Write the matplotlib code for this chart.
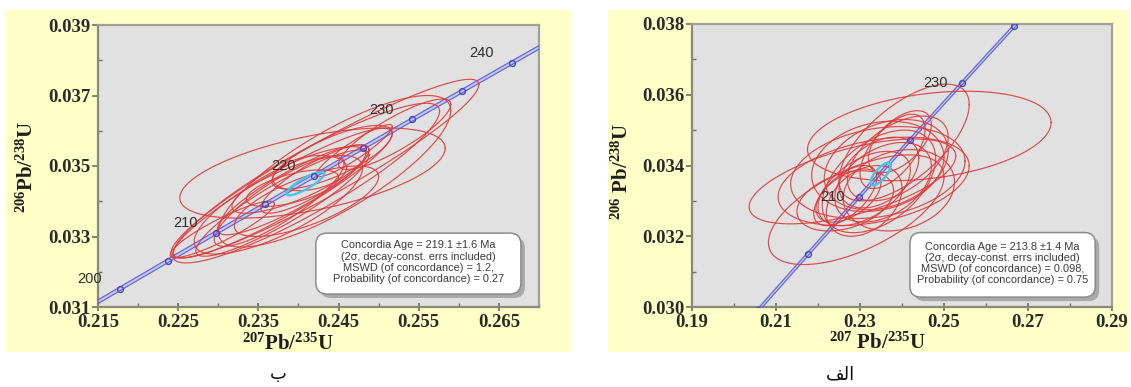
import numpy as np
import matplotlib

matplotlib.use("Agg")

import matplotlib.pyplot as plt
from matplotlib.patches import FancyBboxPatch
from matplotlib.ticker import MultipleLocator, FormatStrFormatter

plt.rcParams["mathtext.fontset"] = "custom"
plt.rcParams["mathtext.rm"] = "Liberation Serif:bold"
plt.rcParams["mathtext.bf"] = "Liberation Serif:bold"
plt.rcParams["mathtext.default"] = "rm"

# decay constants (1/yr) used for the concordia curve
LAMBDA_238 = 1.55125e-10
LAMBDA_235 = 9.8485e-10

# ---- panel "ب" (left) ----
b_caption = "ب"
b_xlim = (0.215, 0.270)
b_ylim = (0.031, 0.039)
b_xticks = [0.215, 0.225, 0.235, 0.245, 0.255, 0.265]
b_yticks = [0.031, 0.033, 0.035, 0.037, 0.039]
b_marker_ages = [195, 200, 205, 210, 215, 220, 225, 230, 235, 240, 245]
b_label_ages = [200, 210, 220, 230, 240]
b_cx = [0.2433, 0.24095, 0.2445, 0.24175, 0.2442, 0.23805, 0.2380, 0.2376, 0.23935,
        0.24005, 0.23925, 0.2414, 0.2305, 0.2375, 0.2410, 0.24695, 0.24205, 0.2520]
b_cy = [0.034925, 0.034515, 0.03485, 0.0348, 0.03525, 0.03423, 0.03395, 0.033995, 0.034325,
        0.034605, 0.03437, 0.0348, 0.0332, 0.0339, 0.0340, 0.035435, 0.03463, 0.0359]
b_sx = [0.0192, 0.01665, 0.0145, 0.01655, 0.0075, 0.01365, 0.0108, 0.0081, 0.00945,
        0.00835, 0.00575, 0.0046, 0.0065, 0.0105, 0.0090, 0.00475, 0.00675, 0.0070]
b_sy = [0.002535, 0.002265, 0.00215, 0.00128, 0.0009, 0.00184, 0.00151, 0.001275, 0.001275,
        0.000945, 0.00052, 0.0005, 0.0008, 0.0014, 0.0010, 0.00074, 0.00097, 0.0010]
b_rho = [0.94, 0.9, 0.8, 0.55, 0.75, 0.92, 0.9, 0.85, 0.88,
         0.8, 0.6, 0.3, 0.9, 0.75, 0.7, 0.92, 0.85, 0.85]
b_mean = (0.24085, 0.0345, 0.00235, 0.00033, 0.85)
b_text = ["Concordia Age = 219.1 \u00b11.6 Ma",
          "(2\u03c3, decay-const. errs included)",
          "MSWD (of concordance) = 1.2,",
          "Probability (of concordance) = 0.27"]

# ---- panel "الف" (right) ----
a_caption = "الف"
a_xlim = (0.19, 0.29)
a_ylim = (0.030, 0.038)
a_xticks = [0.19, 0.21, 0.23, 0.25, 0.27, 0.29]
a_yticks = [0.030, 0.032, 0.034, 0.036, 0.038]
a_marker_ages = [190, 200, 210, 220, 230, 240, 250]
a_label_ages = [210, 230]
a_cx = [0.2465, 0.2282, 0.2291, 0.23325, 0.23425, 0.23425, 0.2345, 0.2405, 0.2355, 0.231,
        0.239, 0.231, 0.23775, 0.22725, 0.2345, 0.2395, 0.23625, 0.2265, 0.23925, 0.2265]
a_cy = [0.034835, 0.03355, 0.03275, 0.03355, 0.0338, 0.033975, 0.03355, 0.03465, 0.033525, 0.03335,
        0.0342, 0.033, 0.0344, 0.03315, 0.0338, 0.034675, 0.034025, 0.033, 0.0333, 0.03315]
a_sx = [0.029, 0.0246, 0.0209, 0.02275, 0.02075, 0.01575, 0.0135, 0.0155, 0.0115, 0.011,
        0.012, 0.009, 0.00775, 0.00775, 0.0095, 0.0075, 0.01475, 0.0115, 0.01325, 0.0075]
a_sy = [0.001265, 0.0012, 0.00155, 0.00125, 0.0013, 0.001275, 0.00145, 0.00165, 0.001125, 0.00105,
        0.0012, 0.001, 0.00105, 0.00075, 0.001, 0.000875, 0.001275, 0.00085, 0.00115, 0.00085]
a_rho = [0.30, 0.6, 0.6, 0.35, 0.25, 0.2, 0.45, 0.65, 0.4, 0.5,
         0.5, 0.35, 0.6, 0.5, 0.4, 0.55, 0.3, 0.35, 0.2, 0.6]
a_mean = (0.2349, 0.03376, 0.0024, 0.00032, 0.75)
a_text = ["Concordia Age = 213.8 \u00b11.4 Ma",
          "(2\u03c3, decay-const. errs included)",
          "MSWD (of concordance) = 0.098,",
          "Probability (of concordance) = 0.75"]

W, H = 1131, 387
YELLOW = "#ffffc8"
PLOT_BG = "#e1e1e1"
RED = "#e03a3a"
CYAN = "#44c4ee"
BLUE = "#5555dd"

# Arabic presentation forms (isolated, final, initial, medial) for the letters used
FORMS = {
    "ب": ("\ufe8f", "\ufe90", "\ufe91", "\ufe92"),
    "ا": ("\ufe8d", "\ufe8e", None, None),
    "ل": ("\ufedd", "\ufede", "\ufedf", "\ufee0"),
    "ف": ("\ufed1", "\ufed2", "\ufed3", "\ufed4"),
}


def shape_arabic(word):
    out = []
    for i, ch in enumerate(word):
        prev = word[i - 1] if i > 0 else None
        nxt = word[i + 1] if i + 1 < len(word) else None
        join_prev = prev is not None and FORMS[prev][2] is not None
        join_next = nxt is not None and FORMS[ch][2] is not None
        iso, fin, ini, med = FORMS[ch]
        if join_prev and join_next:
            out.append(med)
        elif join_prev:
            out.append(fin)
        elif join_next:
            out.append(ini)
        else:
            out.append(iso)
    return "".join(reversed(out))


def concordia(ages_ma):
    t = np.asarray(ages_ma, dtype=float) * 1e6
    return np.expm1(LAMBDA_235 * t), np.expm1(LAMBDA_238 * t)


def ellipse_xy(cx, cy, sx, sy, rho, n=240):
    th = np.linspace(0, 2 * np.pi, n)
    x = cx + sx * np.cos(th)
    y = cy + sy * (rho * np.cos(th) + np.sqrt(1 - rho ** 2) * np.sin(th))
    return x, y


def fig_rect(x0, y0, x1, y1):
    return [x0 / W, 1 - y1 / H, (x1 - x0) / W, (y1 - y0) / H]


def draw_panel(fig, bg_px, ax_px, xlim, ylim, xticks, yticks, xminor, yminor, xfmt,
               marker_ages, label_ages, label_off, cx, cy, sx, sy, rho, mean,
               text_lines, box_frac, xlabel, xlabel_px, ylabel, ylabel_px, caption, cap_px):
    bg = fig.add_axes(fig_rect(*bg_px))
    bg.set_facecolor(YELLOW)
    bg.set_xticks([])
    bg.set_yticks([])
    for s in bg.spines.values():
        s.set_visible(False)

    ax = fig.add_axes(fig_rect(*ax_px))
    ax.set_facecolor(PLOT_BG)
    ax.set_xlim(*xlim)
    ax.set_ylim(*ylim)
    ax.set_xticks(xticks)
    ax.set_yticks(yticks)
    ax.xaxis.set_minor_locator(MultipleLocator(xminor))
    ax.yaxis.set_minor_locator(MultipleLocator(yminor))
    ax.xaxis.set_major_formatter(FormatStrFormatter(xfmt))
    ax.yaxis.set_major_formatter(FormatStrFormatter("%.3f"))
    for lab in ax.get_xticklabels() + ax.get_yticklabels():
        lab.set_family("Liberation Serif")
        lab.set_weight("bold")
        lab.set_fontsize(13.5)
        lab.set_color("#2a2a2a")
    ax.tick_params(axis="y", which="major", direction="out", length=4, width=1.2,
                   color="#707060", pad=1.5)
    ax.tick_params(axis="x", which="major", direction="inout", length=6, width=1.2,
                   color="#707060", pad=2)
    ax.tick_params(which="minor", direction="in", length=3, width=1, color="#707060")
    for side, s in ax.spines.items():
        s.set_linewidth(1.6)
        s.set_color("#8a8a78" if side in ("left", "bottom") else "#a0a096")

    # concordia band
    t = np.linspace(150, 280, 600)
    cxs, cys = concordia(t)
    band = 0.0004
    ax.fill_betweenx(cys, cxs - band, cxs + band, color="#c9c9ee", lw=0, zorder=2)
    ax.plot(cxs - band, cys, color=BLUE, lw=0.9, alpha=0.85, zorder=3)
    ax.plot(cxs + band, cys, color=BLUE, lw=0.9, alpha=0.85, zorder=3)

    # data-point error ellipses
    for i in range(len(cx)):
        ex, ey = ellipse_xy(cx[i], cy[i], sx[i], sy[i], rho[i])
        ax.plot(ex, ey, color=RED, lw=0.85, alpha=0.9, zorder=4)

    # concordia age ellipse
    mx, my = ellipse_xy(*mean)
    ax.plot(mx, my, color=CYAN, lw=1.7, zorder=5)

    mkx, mky = concordia(marker_ages)
    ax.plot(mkx, mky, ls="none", marker="o", ms=4.2, mfc="none", mec="#4646c8",
            mew=1.0, zorder=6)
    lx, ly = concordia(label_ages)
    for age, x, y in zip(label_ages, lx, ly):
        ax.annotate(str(age), (x, y), xytext=label_off, textcoords="offset points",
                    ha="center", va="center", fontsize=10.5, family="Liberation Sans",
                    color="#303030", zorder=7)

    # result box with shadow
    x0, y0, x1, y1 = box_frac
    aspect = (ax_px[2] - ax_px[0]) / (ax_px[3] - ax_px[1])
    dx, dy = 4 / (ax_px[2] - ax_px[0]), 4 / (ax_px[3] - ax_px[1])
    shadow = FancyBboxPatch((x0 + dx, y0 - dy), x1 - x0, y1 - y0,
                            boxstyle="round,pad=0,rounding_size=0.025",
                            mutation_aspect=aspect, transform=ax.transAxes,
                            fc="#a9a9a9", ec="none", zorder=8)
    box = FancyBboxPatch((x0, y0), x1 - x0, y1 - y0,
                         boxstyle="round,pad=0,rounding_size=0.025",
                         mutation_aspect=aspect, transform=ax.transAxes,
                         fc="white", ec="#8c8c8c", lw=1.1, zorder=9)
    ax.add_patch(shadow)
    ax.add_patch(box)
    ax.text((x0 + x1) / 2, (y0 + y1) / 2 + 0.005, "\n".join(text_lines),
            transform=ax.transAxes, ha="center", va="center", fontsize=7.9,
            family="Liberation Sans", color="#3c3c3c", linespacing=1.15, zorder=10)

    fig.text(xlabel_px[0] / W, 1 - xlabel_px[1] / H, xlabel, ha="center", va="center",
             fontsize=15, family="Liberation Serif", weight="bold", color="#1e1e1e")
    fig.text(ylabel_px[0] / W, 1 - ylabel_px[1] / H, ylabel, ha="center", va="center",
             rotation=90, fontsize=15, family="Liberation Serif", weight="bold",
             color="#1e1e1e")
    fig.text(cap_px[0] / W, 1 - cap_px[1] / H, shape_arabic(caption), ha="center",
             va="center", fontsize=13, family="DejaVu Sans", color="#111111")
    return ax


fig = plt.figure(figsize=(W / 100, H / 100), dpi=100)
fig.patch.set_facecolor("white")

draw_panel(fig, (5, 10, 571, 352), (98, 25, 539, 307), b_xlim, b_ylim, b_xticks, b_yticks,
           0.005, 0.001, "%.3f", b_marker_ages, b_label_ages, (-22, 7),
           b_cx, b_cy, b_sx, b_sy, b_rho, b_mean, b_text,
           (0.494, 0.046, 0.959, 0.262),
           r"$^{207}$Pb/$^{235}$U", (288, 344), r"$^{206}$Pb/$^{238}$U", (27, 167),
           b_caption, (278, 374))

draw_panel(fig, (608, 10, 1129, 352), (692, 24, 1112, 307), a_xlim, a_ylim, a_xticks, a_yticks,
           0.01, 0.001, "%.2f", a_marker_ages, a_label_ages, (-19, 0),
           a_cx, a_cy, a_sx, a_sy, a_rho, a_mean, a_text,
           (0.519, 0.035, 0.960, 0.263),
           r"$^{207}$ Pb/$^{235}$U", (878, 343), r"$^{206}$ Pb/$^{238}$U", (622, 171),
           a_caption, (840, 374))

fig.savefig("out.png", dpi=100, facecolor="white")
